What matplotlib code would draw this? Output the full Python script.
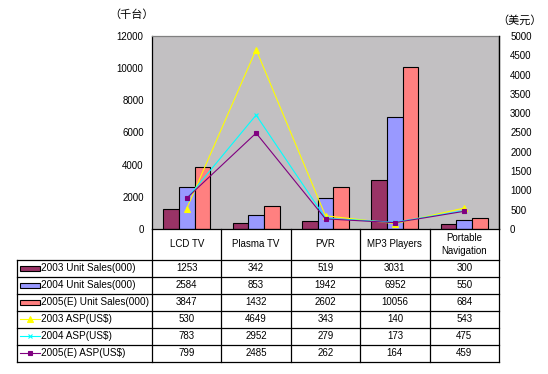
import matplotlib
matplotlib.use("Agg")
import matplotlib.pyplot as plt
from matplotlib.patches import Rectangle
from matplotlib.lines import Line2D
import numpy as np

plt.rcParams['font.family'] = ['Liberation Sans', 'DejaVu Sans']

categories = ["LCD TV", "Plasma TV", "PVR", "MP3 Players", "Portable\nNavigation"]
units_2003 = [1253, 342, 519, 3031, 300]
units_2004 = [2584, 853, 1942, 6952, 550]
units_2005 = [3847, 1432, 2602, 10056, 684]
asp_2003 = [530, 4649, 343, 140, 543]
asp_2004 = [783, 2952, 279, 173, 475]
asp_2005 = [799, 2485, 262, 164, 459]

bar_names = ["2003 Unit Sales(000)", "2004 Unit Sales(000)", "2005(E) Unit Sales(000)"]
line_names = ["2003 ASP(US$)", "2004 ASP(US$)", "2005(E) ASP(US$)"]
bar_colors = ["#993366", "#9999FF", "#FF8080"]
line_colors = ["#FFFF00", "#00FFFF", "#800080"]
line_markers = ["^", "x", "s"]
marker_sizes = [4, 3.5, 2.5]
left_ticks = [0, 2000, 4000, 6000, 8000, 10000, 12000]
right_ticks = [0, 500, 1000, 1500, 2000, 2500, 3000, 3500, 4000, 4500, 5000]

W, H = 548, 374
fig = plt.figure(figsize=(W / 100, H / 100), dpi=100)
fig.patch.set_facecolor("white")

# plot area in pixels
L, R, T, B = 152, 499, 36, 229
ax = fig.add_axes([L / W, 1 - B / H, (R - L) / W, (B - T) / H])
ax.set_facecolor("#C2C0C2")
n = len(categories)
x = np.arange(n)
bw = 0.225
bars = [units_2003, units_2004, units_2005]
for i, (vals, c) in enumerate(zip(bars, bar_colors)):
    ax.bar(x + (i - 1) * bw, vals, bw, color=c, edgecolor="black", linewidth=0.8, zorder=2)
ax.set_xlim(-0.5, n - 0.5)
ax.set_ylim(0, 12000)
ax.set_yticks(left_ticks)
ax.set_yticklabels([str(t) for t in left_ticks], fontsize=7)
ax.tick_params(axis="y", length=0, pad=6)
ax.set_xticks([])
for s in ["left", "bottom", "right"]:
    ax.spines[s].set_color("black")
    ax.spines[s].set_linewidth(0.9)
ax.spines["top"].set_color("#808080")
ax.spines["top"].set_linewidth(0.9)

ax2 = ax.twinx()
lines = [asp_2003, asp_2004, asp_2005]
for vals, c, m, ms in zip(lines, line_colors, line_markers, marker_sizes):
    ax2.plot(x, vals, color=c, marker=m, markersize=ms, linewidth=0.8,
             markeredgewidth=0.8, zorder=3)
ax2.set_ylim(0, 5000)
ax2.set_yticks(right_ticks)
ax2.set_yticklabels([str(t) for t in right_ticks], fontsize=7)
ax2.tick_params(axis="y", length=0, pad=8)
ax2.spines["right"].set_color("black")
ax2.spines["right"].set_linewidth(0.9)
ax2.spines["top"].set_visible(False)
ax2.spines["left"].set_visible(False)
ax2.spines["bottom"].set_visible(False)

cjk = ['Noto Sans CJK SC', 'DejaVu Sans']
fig.text(132 / W, 1 - 15 / H, "（千台）", fontsize=8, family=cjk, ha="center", va="center")
fig.text(520 / W, 1 - 20 / H, "（美元）", fontsize=8, family=cjk, ha="center", va="center")

# table overlay in pixel coords
ov = fig.add_axes([0, 0, 1, 1], facecolor="none")
ov.set_xlim(0, W)
ov.set_ylim(H, 0)
ov.axis("off")

colw = (R - L) / n
row_top = 259.5
row_h = 17.0
nrows = 6
tb_left = 17
lw = 0.9
for i in range(n + 1):
    xx = L + i * colw
    ov.add_line(Line2D([xx, xx], [B, row_top + nrows * row_h], color="black", lw=lw))
ov.add_line(Line2D([tb_left, tb_left], [row_top, row_top + nrows * row_h], color="black", lw=lw))
for j in range(nrows + 1):
    yy = row_top + j * row_h
    ov.add_line(Line2D([tb_left, R], [yy, yy], color="black", lw=lw))

for i, cat in enumerate(categories):
    ov.text(L + (i + 0.5) * colw, (B + row_top) / 2, cat, fontsize=7,
            ha="center", va="center", linespacing=1.4)

all_rows = bars + lines
names = bar_names + line_names
for j, (vals, name) in enumerate(zip(all_rows, names)):
    yc = row_top + (j + 0.5) * row_h
    for i, v in enumerate(vals):
        ov.text(L + (i + 0.5) * colw, yc, str(v), fontsize=7, ha="center", va="center")
    ov.text(41, yc, name, fontsize=7.2, ha="left", va="center")
    if j < 3:
        ov.add_patch(Rectangle((19.5, yc - 2.5), 20, 5, facecolor=bar_colors[j],
                               edgecolor="black", lw=0.8))
    else:
        k = j - 3
        ov.add_line(Line2D([19.5, 40], [yc, yc], color=line_colors[k], lw=0.8))
        ov.add_line(Line2D([30], [yc], color=line_colors[k], marker=line_markers[k],
                           markersize=marker_sizes[k], markeredgewidth=0.8, lw=0))

fig.savefig("out.png", dpi=100)
